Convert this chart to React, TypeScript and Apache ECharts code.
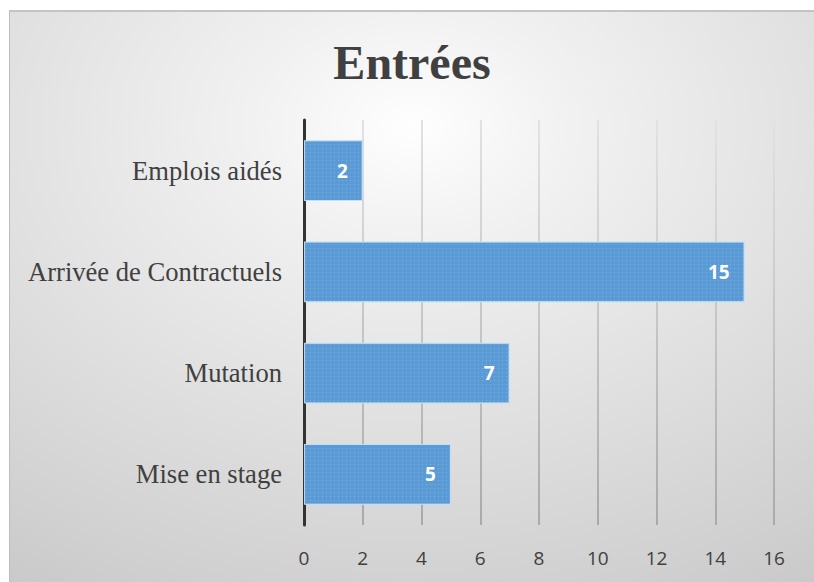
import React, { useEffect, useRef } from "react";
import * as echarts from "echarts";

const categories = ["Mise en stage", "Mutation", "Arrivée de Contractuels", "Emplois aidés"];
const values = [5, 7, 15, 2];
const title = "Entrées";

export default function App() {
  const ref = useRef<HTMLDivElement>(null);
  useEffect(() => {
    if (!ref.current) return;
    const chart = echarts.init(ref.current, undefined, { renderer: "svg" });
    const gridTop = 108;
    const gridBottom = 57;
    const h = 572;
    chart.setOption({
      animation: false,
      backgroundColor: {
        type: "radial",
        x: 0.5,
        y: 0.2,
        r: 1,
        colorStops: [
          { offset: 0, color: "#fefefe" },
          { offset: 0.2, color: "#f1f1f1" },
          { offset: 0.68, color: "#d8d8d8" },
          { offset: 0.83, color: "#d0d0d0" },
          { offset: 1, color: "#c6c6c6" },
        ],
      },
      title: {
        text: title,
        left: "center",
        top: 21,
        textStyle: {
          fontFamily: "Liberation Serif",
          fontWeight: "bold",
          fontSize: 48,
          color: "#404040",
        },
      },
      grid: { left: 294, right: 40, top: gridTop, bottom: gridBottom, containLabel: false },
      xAxis: {
        type: "value",
        min: 0,
        max: 16,
        interval: 2,
        axisLine: { show: false },
        axisTick: { show: false },
        splitLine: {
          show: true,
          lineStyle: {
            width: 2,
            color: {
              type: "linear",
              global: true,
              x: 0,
              y: gridTop,
              x2: 0,
              y2: h - gridBottom,
              colorStops: [
                { offset: 0, color: "#e2e2e2" },
                { offset: 1, color: "#a9a9a9" },
              ],
            },
          },
        },
        axisLabel: {
          color: "#404040",
          fontFamily: "Open Sans",
          fontSize: 19,
          margin: 23,
        },
      },
      yAxis: {
        type: "category",
        data: categories,
        axisLine: { show: true, lineStyle: { color: "#333333", width: 3 } },
        axisTick: { show: false },
        axisLabel: {
          color: "#404040",
          fontFamily: "Liberation Serif",
          fontSize: 26.6,
          margin: 22,
        },
      },
      series: [
        {
          type: "bar",
          data: values,
          barCategoryGap: "40%",
          itemStyle: {
            color: "#5b9bd5",
            borderColor: "rgba(200,225,245,0.7)",
            borderWidth: 1,
            decal: {
              symbol: "rect",
              symbolSize: 1,
              color: "rgba(255,255,255,0.22)",
              dashArrayX: [1, 3],
              dashArrayY: [1, 3],
            },
          },
          label: {
            show: true,
            position: "insideRight",
            distance: 15,
            color: "#ffffff",
            fontWeight: "bold",
            fontFamily: "Open Sans",
            fontSize: 19,
          },
        },
      ],
    });
    return () => chart.dispose();
  }, []);
  return (
    <div
      ref={ref}
      style={{
        position: "absolute",
        left: 9,
        top: 10,
        width: 805,
        height: 572,
        borderLeft: "1px solid #bdbdbd",
        borderTop: "2px solid #c4c4c4",
        boxSizing: "border-box",
      }}
    />
  );
}
